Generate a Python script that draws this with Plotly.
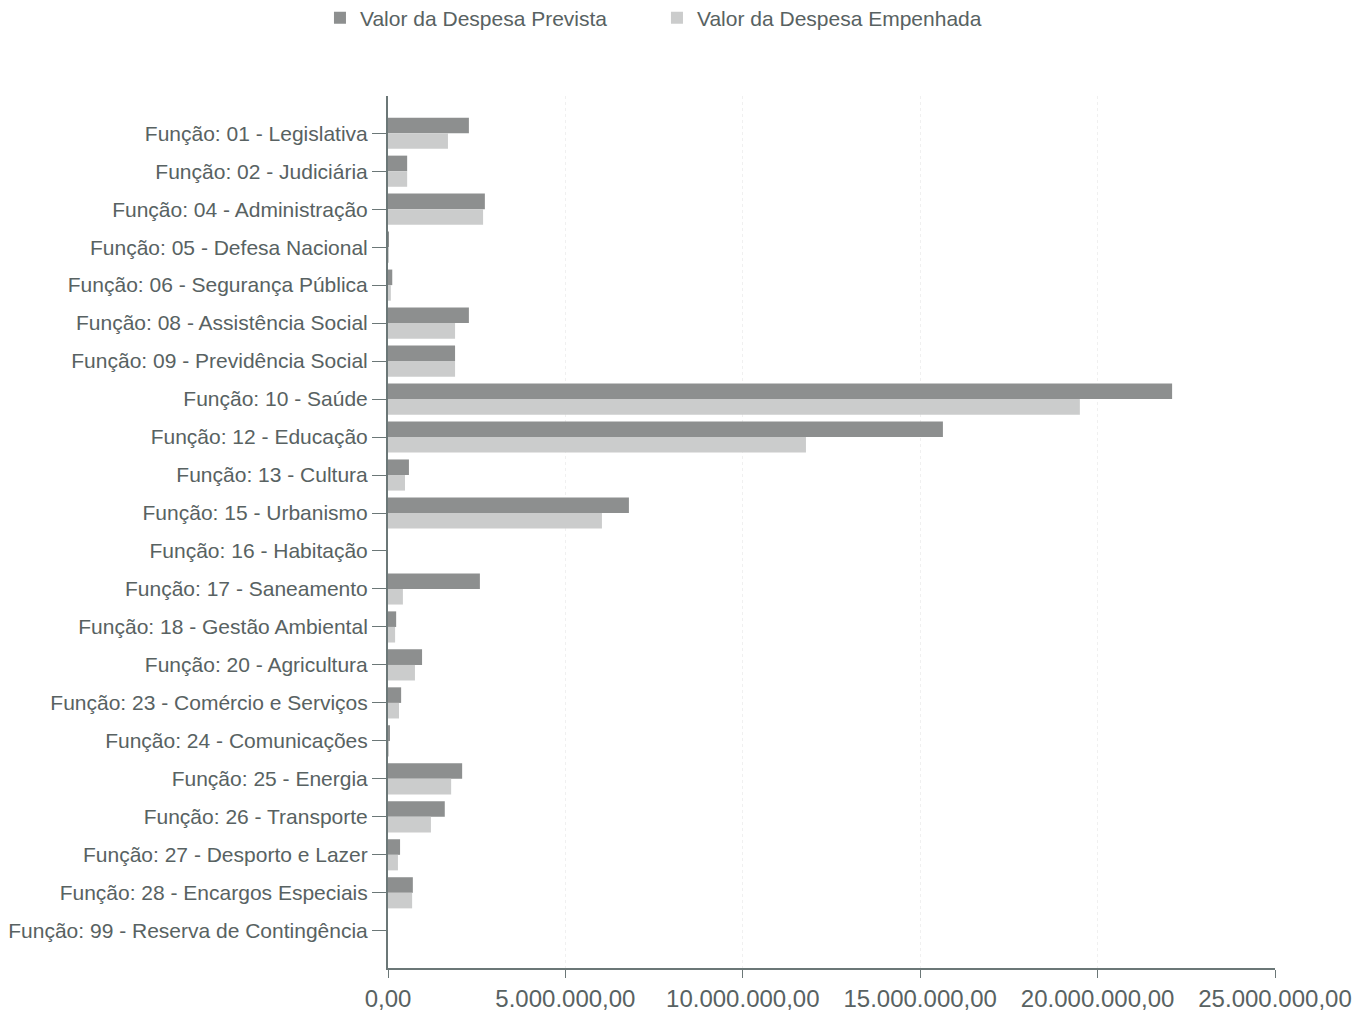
import plotly.graph_objects as go

categories = [
    "Função: 01 - Legislativa",
    "Função: 02 - Judiciária",
    "Função: 04 - Administração",
    "Função: 05 - Defesa Nacional",
    "Função: 06 - Segurança Pública",
    "Função: 08 - Assistência Social",
    "Função: 09 - Previdência Social",
    "Função: 10 - Saúde",
    "Função: 12 - Educação",
    "Função: 13 - Cultura",
    "Função: 15 - Urbanismo",
    "Função: 16 - Habitação",
    "Função: 17 - Saneamento",
    "Função: 18 - Gestão Ambiental",
    "Função: 20 - Agricultura",
    "Função: 23 - Comércio e Serviços",
    "Função: 24 - Comunicações",
    "Função: 25 - Energia",
    "Função: 26 - Transporte",
    "Função: 27 - Desporto e Lazer",
    "Função: 28 - Encargos Especiais",
    "Função: 99 - Reserva de Contingência",
]

despesa_prevista = [
    2280000, 540000, 2730000, 20000, 120000, 2280000, 1890000, 22100000,
    15640000, 590000, 6790000, 0, 2590000, 230000, 960000, 370000,
    30000, 2090000, 1600000, 340000, 700000, 0,
]

despesa_empenhada = [
    1690000, 540000, 2680000, 10000, 80000, 1890000, 1890000, 19500000,
    11780000, 480000, 6030000, 0, 420000, 200000, 760000, 310000,
    20000, 1780000, 1210000, 280000, 680000, 0,
]

x_ticks = [0, 5000000, 10000000, 15000000, 20000000, 25000000]

text_color = "#586262"
axis_color = "#6b7777"

fig = go.Figure()
fig.add_trace(go.Bar(
    y=categories, x=despesa_prevista, orientation="h",
    name="Valor da Despesa Prevista",
    marker=dict(color="#8d8f8f", line=dict(width=0)),
))
fig.add_trace(go.Bar(
    y=categories, x=despesa_empenhada, orientation="h",
    name="Valor da Despesa Empenhada",
    marker=dict(color="#cbcccc", line=dict(width=0)),
))

fig.update_layout(
    width=1370, height=1011,
    margin=dict(l=380, r=103, t=88, b=51, autoexpand=False),
    paper_bgcolor="white", plot_bgcolor="white",
    barmode="group", bargap=0.18, bargroupgap=0.0,
    separators=",.",
    font=dict(family="Liberation Sans, Arial, sans-serif", size=20, color=text_color),
    legend=dict(
        orientation="h", x=-0.0767, y=1.0894, xanchor="left", yanchor="middle",
        font=dict(size=21, color=text_color), traceorder="normal",
        entrywidth=292, entrywidthmode="pixels",
    ),
    showlegend=True,
)

fig.update_xaxes(
    range=[0, 25000000], tickvals=x_ticks, tickformat=",.2f",
    showgrid=True, gridcolor="#f0f0f0", gridwidth=1, griddash="dot",
    showline=True, linecolor=axis_color, linewidth=2,
    ticks="outside", ticklen=8, tickcolor=axis_color,
    zeroline=False, tickfont=dict(size=24, color=text_color),
)
fig.update_yaxes(
    categoryorder="array", categoryarray=categories,
    range=[len(categories) - 1 + 0.98, -0.98],
    showgrid=False,
    showline=True, linecolor=axis_color, linewidth=2,
    ticks="outside", ticklen=14, tickcolor=axis_color,
    tickfont=dict(size=21, color=text_color),
)

fig.write_html("out.html")
